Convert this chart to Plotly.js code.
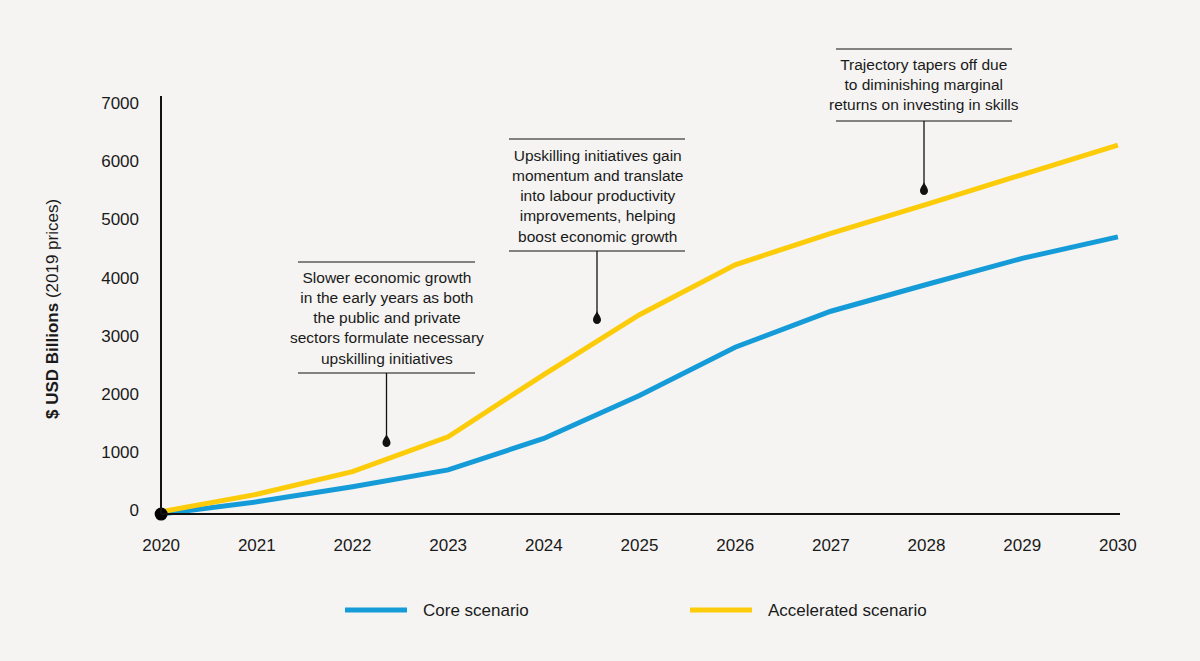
<!DOCTYPE html>
<html>
<head>
<meta charset="utf-8">
<script src="https://cdn.plot.ly/plotly-3.0.1.min.js"></script>
<style>
  html, body { margin: 0; padding: 0; background: #f5f4f2; }
  #chart { width: 1200px; height: 661px; }
</style>
</head>
<body>
<div id="chart"></div>
<script>
// values ($ USD billions, 2019 prices)
const years = [2020, 2021, 2022, 2023, 2024, 2025, 2026, 2027, 2028, 2029, 2030];
const coreScenario = [0, 210, 470, 760, 1300, 2040, 2870, 3490, 3950, 4400, 4770];
const acceleratedScenario = [40, 340, 730, 1330, 2400, 3430, 4290, 4830, 5330, 5850, 6350];
const yTicks = [0, 1000, 2000, 3000, 4000, 5000, 6000, 7000];

const notes = [
  ['Slower economic growth', 'in the early years as both', 'the public and private',
   'sectors formulate necessary', 'upskilling initiatives'],
  ['Upskilling initiatives gain', 'momentum and translate', 'into labour productivity',
   'improvements, helping', 'boost economic growth'],
  ['Trajectory tapers off due', 'to diminishing marginal', 'returns on investing in skills']
];

const BLUE = '#159bd7';
const YELLOW = '#fccc0a';
const INK = '#1a1a1a';
const FONT = 'Liberation Sans, Arial, sans-serif';

// layout geometry in pixels
const M = { l: 142, r: 63, t: 96, b: 135 };
const W = 1200, H = 661;
const plotW = W - M.l - M.r, plotH = H - M.t - M.b;
const xp = px => (px - M.l) / plotW;
const yp = py => (H - M.b - py) / plotH;

const shapes = [];
const annotations = [];

function hline(x0, x1, y, w, color) {
  shapes.push({ type: 'line', xref: 'paper', yref: 'paper',
    x0: xp(x0), x1: xp(x1), y0: yp(y), y1: yp(y),
    line: { color: color || '#111', width: w } });
}
function vline(x, y0, y1, w) {
  shapes.push({ type: 'line', xref: 'paper', yref: 'paper',
    x0: xp(x), x1: xp(x), y0: yp(y0), y1: yp(y1),
    line: { color: '#111', width: w } });
}
function drop(x, y) {
  shapes.push({ type: 'path', xref: 'paper', yref: 'paper',
    xsizemode: 'pixel', ysizemode: 'pixel', xanchor: xp(x), yanchor: yp(y),
    path: 'M0,7 C1,4 4,1.5 4,-2 C4,-4.2 2.2,-6 0,-6 C-2.2,-6 -4,-4.2 -4,-2 C-4,1.5 -1,4 0,7 Z',
    fillcolor: '#111', line: { width: 0 } });
}

// axis lines
vline(161, 96, 514, 2);
hline(161, 1120, 514, 2);

// callout boxes: [left, right, top rule, bottom rule, text centre y, drop y]
const boxes = [
  [298, 475, 262, 373, 318, 441],
  [509, 685, 139, 251, 196, 318],
  [836, 1012, 49, 121, 85, 189]
];
boxes.forEach((b, i) => {
  const [x0, x1, top, bot, cy, dy] = b;
  const cx = (x0 + x1) / 2;
  hline(x0, x1, top, 1);
  hline(x0, x1, bot, 1);
  vline(cx, bot, dy - 4, 1.3);
  drop(cx, dy);
  annotations.push({ xref: 'paper', yref: 'paper', x: xp(cx), y: yp(cy),
    xanchor: 'center', yanchor: 'middle', align: 'center', showarrow: false,
    text: notes[i].join('<br>'), font: { family: FONT, size: 15.5, color: INK } });
});

// y axis title
annotations.push({ xref: 'paper', yref: 'paper', x: xp(52), y: yp(309),
  xanchor: 'center', yanchor: 'middle', textangle: -90, showarrow: false,
  text: '<b>$ USD Billions</b> (2019 prices)', font: { family: FONT, size: 17, color: INK } });

// legend
const legendItems = [['Core scenario', BLUE, 345], ['Accelerated scenario', YELLOW, 690]];
legendItems.forEach(([name, color, x]) => {
  hline(x, x + 62, 610, 5, color);
  annotations.push({ xref: 'paper', yref: 'paper', x: xp(x + 76), y: yp(610),
    xanchor: 'left', yanchor: 'middle', showarrow: false,
    text: name, font: { family: FONT, size: 17, color: INK } });
});

const traces = [
  { x: years, y: coreScenario, name: 'Core scenario', type: 'scatter', mode: 'lines',
    line: { color: BLUE, width: 5 }, showlegend: false },
  { x: years, y: acceleratedScenario, name: 'Accelerated scenario', type: 'scatter', mode: 'lines',
    line: { color: YELLOW, width: 5 }, showlegend: false },
  { x: [years[0]], y: [coreScenario[0]], type: 'scatter', mode: 'markers',
    marker: { color: '#000', size: 13 }, cliponaxis: false, showlegend: false, hoverinfo: 'skip' }
];

const layout = {
  width: W, height: H,
  margin: M,
  paper_bgcolor: '#f5f4f2',
  plot_bgcolor: '#f5f4f2',
  font: { family: FONT, color: INK },
  showlegend: false,
  xaxis: {
    range: [2019.8, 2030.2], tickvals: years, ticks: '',
    showgrid: false, zeroline: false, showline: false,
    tickfont: { size: 17, color: INK }, ticklabelstandoff: 7, fixedrange: true
  },
  yaxis: {
    range: [-206, 7194], tickvals: yTicks, ticks: '',
    showgrid: false, zeroline: false, showline: false,
    tickfont: { size: 17, color: INK }, ticklabelstandoff: 2, ticklabelshift: -4, fixedrange: true
  },
  shapes: shapes,
  annotations: annotations
};

Plotly.newPlot('chart', traces, layout, { displayModeBar: false, staticPlot: true });
</script>
</body>
</html>
